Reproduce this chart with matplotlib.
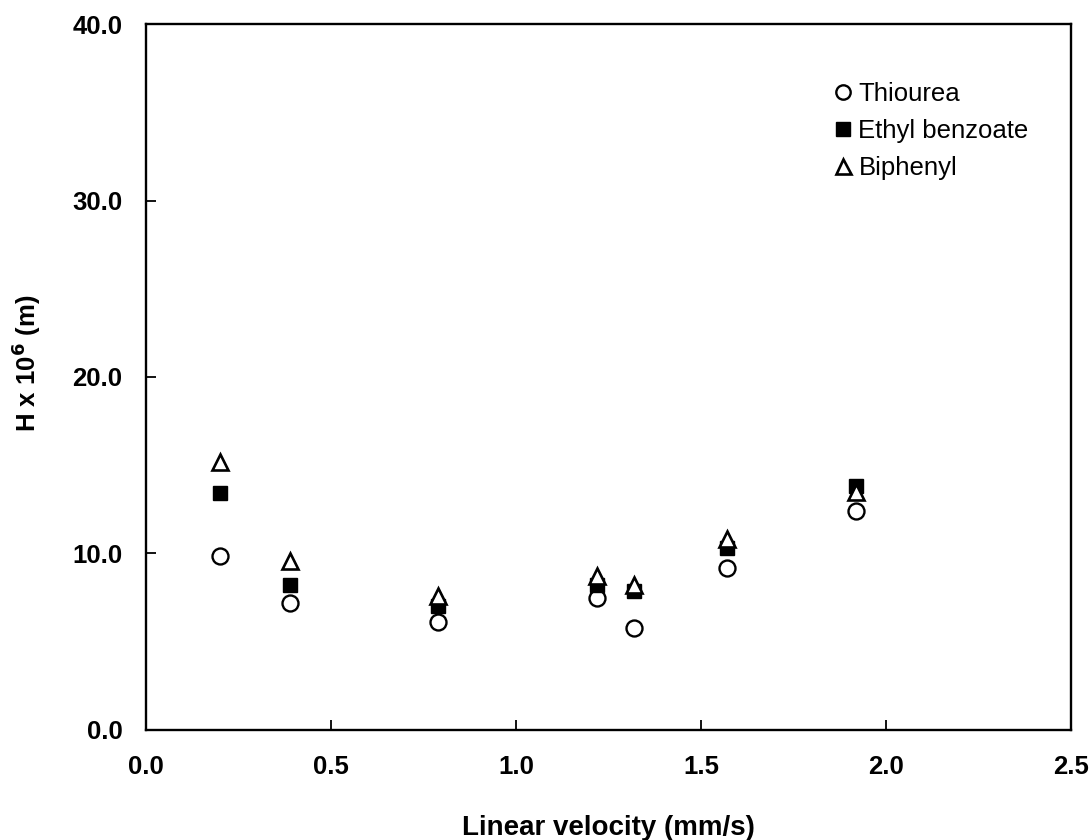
import matplotlib
matplotlib.use("Agg")
import matplotlib.pyplot as plt

plt.rcParams['font.family'] = ['Liberation Sans', 'DejaVu Sans']

# valores
velocity = [0.20, 0.39, 0.79, 1.22, 1.32, 1.57, 1.92]
thiourea = [9.85, 7.2, 6.1, 7.5, 5.8, 9.2, 12.4]
ethyl_benzoate = [13.4, 8.2, 7.0, 8.2, 7.9, 10.3, 13.8]
biphenyl = [15.2, 9.6, 7.6, 8.7, 8.2, 10.8, 13.5]

xticks = [0.0, 0.5, 1.0, 1.5, 2.0, 2.5]
yticks = [0.0, 10.0, 20.0, 30.0, 40.0]

fig = plt.figure(figsize=(10.9, 8.4), dpi=100)
ax = fig.add_axes([0.134, 0.131, 0.8486, 0.8404])

ax.plot(velocity, thiourea, 'o', ms=11.5, mfc='white', mec='black', mew=1.7,
        label='Thiourea', clip_on=False)
ax.plot(velocity, ethyl_benzoate, 's', ms=10.5, mfc='black', mec='black',
        label='Ethyl benzoate', clip_on=False)
ax.plot(velocity, biphenyl, '^', ms=12, mfc='white', mec='black', mew=1.9,
        label='Biphenyl', clip_on=False)

ax.set_xlim(0, 2.5)
ax.set_ylim(0, 40)
ax.set_xticks(xticks)
ax.set_yticks(yticks)
ax.set_xticklabels([f"{t:.1f}" for t in xticks], fontsize=18.5, fontweight='bold')
ax.set_yticklabels([f"{t:.1f}" for t in yticks], fontsize=18.5, fontweight='bold')
ax.tick_params(direction='in', length=7, width=1.3)
ax.tick_params(axis='y', pad=17)
ax.tick_params(axis='x', pad=18)
for s in ax.spines.values():
    s.set_linewidth(1.7)

ax.set_xlabel('Linear velocity (mm/s)', fontsize=20, fontweight='bold')
ax.xaxis.set_label_coords(0.5, -0.121)
ax.set_ylabel(r'H x 10$^{\mathbf{6}}$ (m)', fontsize=18.5, fontweight='bold')
ax.yaxis.set_label_coords(-0.111, 0.52)

ax.legend(loc='upper left', bbox_to_anchor=(0.744, 0.93), bbox_transform=fig.transFigure,
          frameon=False, fontsize=18.5, markerscale=0.9, handlelength=0.7,
          handletextpad=0.25, labelspacing=0.5)

fig.savefig('out.png', dpi=100)
